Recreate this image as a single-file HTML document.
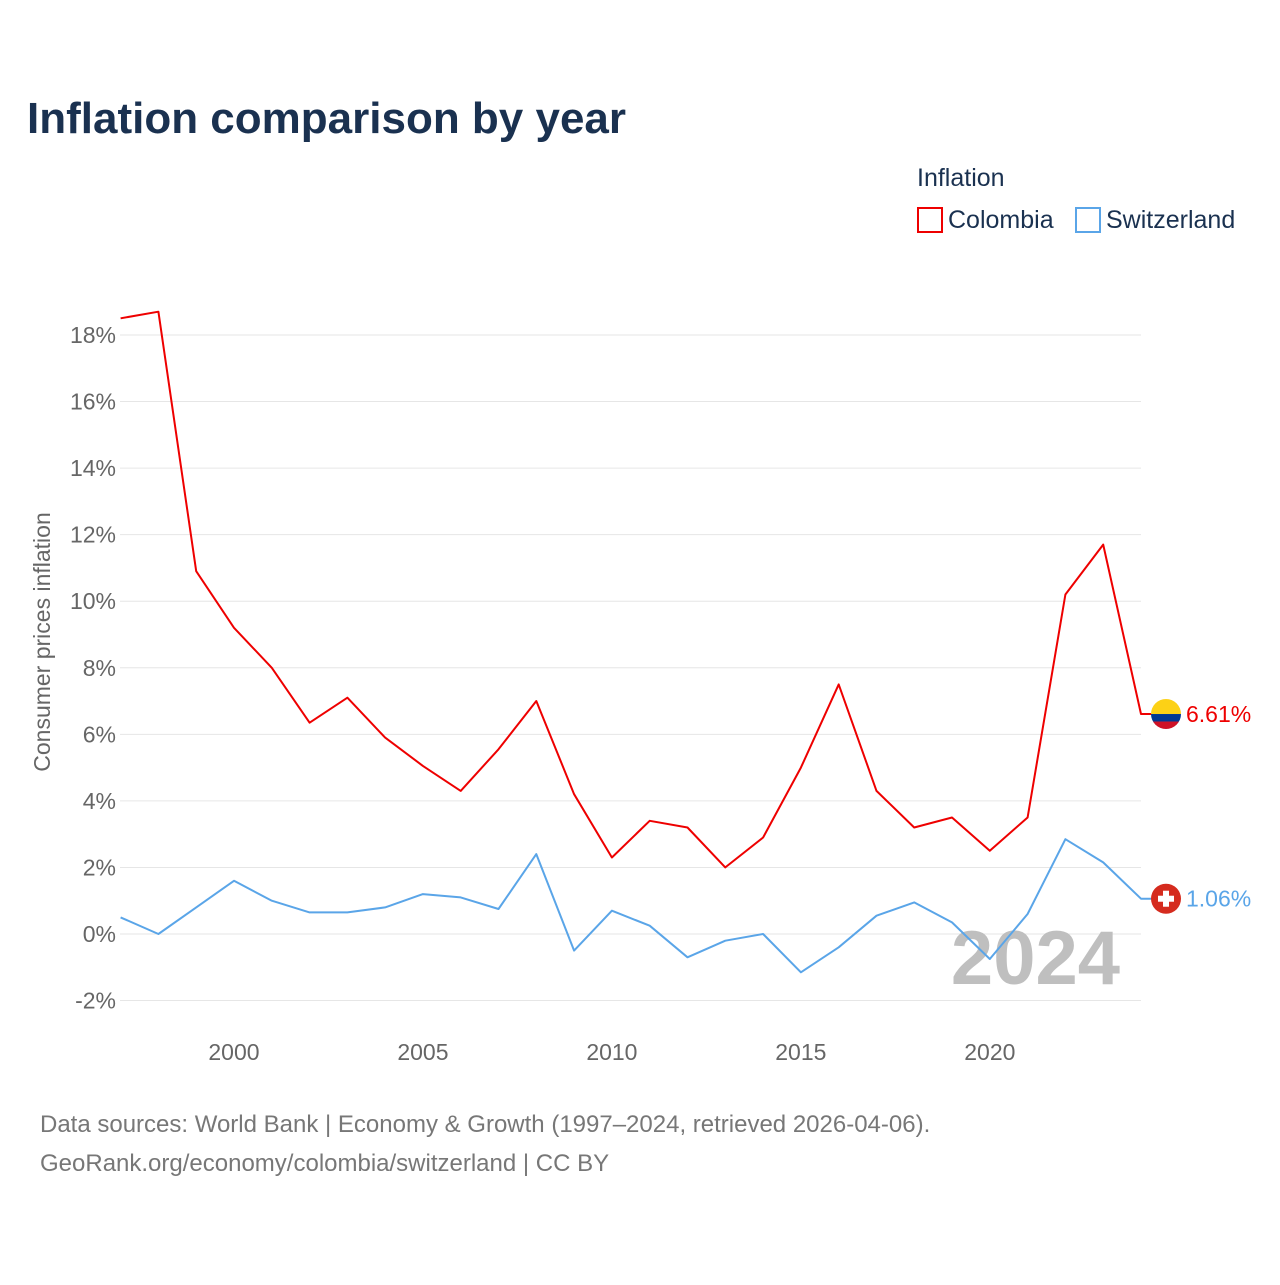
<!DOCTYPE html>
<html><head><meta charset="utf-8"><style>
body{margin:0;background:#fff;font-family:"Liberation Sans",sans-serif;}
svg text{font-family:"Liberation Sans",sans-serif;}
</style></head><body>
<svg id="c" width="1280" height="1280" xmlns="http://www.w3.org/2000/svg">
<text x="27" y="133" font-size="44" font-weight="bold" fill="#1a3150">Inflation comparison by year</text>
<text x="917" y="186" font-size="25" fill="#1a3150">Inflation</text>
<g><rect x="918" y="208" width="24" height="24" fill="none" stroke="#ee0000" stroke-width="2"/><text x="948" y="228" font-size="25" fill="#1a3150">Colombia</text></g>
<g><rect x="1076" y="208" width="24" height="24" fill="none" stroke="#5aa5e8" stroke-width="2"/><text x="1106" y="228" font-size="25" fill="#1a3150">Switzerland</text></g>
<text transform="translate(50,642) rotate(-90)" text-anchor="middle" font-size="23" fill="#666">Consumer prices inflation</text>
<g id="grid"></g><g id="ticks"></g>
<text x="1120" y="984" text-anchor="end" font-size="76" font-weight="bold" fill="#bfbfbf">2024</text>
<g id="series"></g>
<text x="40" y="1132" font-size="24" fill="#777">Data sources: World Bank | Economy &amp; Growth (1997–2024, retrieved 2026-04-06).</text>
<text x="40" y="1171" font-size="24" fill="#777">GeoRank.org/economy/colombia/switzerland | CC BY</text>
</svg>
<script>
const years=[1997,1998,1999,2000,2001,2002,2003,2004,2005,2006,2007,2008,2009,2010,2011,2012,2013,2014,2015,2016,2017,2018,2019,2020,2021,2022,2023,2024];
const colombia=[18.5,18.7,10.9,9.2,8.0,6.35,7.1,5.9,5.05,4.3,5.55,7.0,4.2,2.3,3.4,3.2,2.0,2.9,5.0,7.5,4.3,3.2,3.5,2.5,3.5,10.2,11.7,6.61];
const switzerland=[0.5,0.0,0.8,1.6,1.0,0.65,0.65,0.8,1.2,1.1,0.75,2.4,-0.5,0.7,0.25,-0.7,-0.2,0.0,-1.15,-0.4,0.55,0.95,0.35,-0.75,0.6,2.85,2.15,1.06];
const yTicks=[-2,0,2,4,6,8,10,12,14,16,18];
const xTicks=[2000,2005,2010,2015,2020];
const X=y=>120.6+(y-1997)*(1141-120.6)/27;
const Y=v=>934-v*33.28;
const NS="http://www.w3.org/2000/svg";
function mk(t,a,p){const e=document.createElementNS(NS,t);for(const k in a)e.setAttribute(k,a[k]);p.appendChild(e);return e;}
const grid=document.getElementById('grid'),ticks=document.getElementById('ticks'),ser=document.getElementById('series');
yTicks.forEach(v=>{
 const l=mk('line',{x1:120,x2:1141,y1:Y(v),y2:Y(v),stroke:'#e6e6e6','stroke-width':1},grid);
 
 
 const t=mk('text',{x:116,y:Y(v)+8,'text-anchor':'end','font-size':23,fill:'#666'},ticks);
 t.textContent=v+'%';
 
 
});
xTicks.forEach(y=>{
 const t=mk('text',{x:X(y),y:1060,'text-anchor':'middle','font-size':23,fill:'#666'},ticks);
 t.textContent=y;
 
 
});
function line(vals,col,name){
 const d=vals.map((v,i)=>(i?'L':'M')+X(years[i]).toFixed(1)+','+Y(v).toFixed(1)).join('')+'H1152';
 const p=mk('path',{d:d,fill:'none',stroke:col,'stroke-width':2,'stroke-linejoin':'round'},ser);
 
 
 const last=vals[vals.length-1],ly=Y(last);
 const t=mk('text',{x:1186,y:ly+8,'font-size':23,fill:col},ser);
 t.textContent=last.toFixed(2)+'%';
 
 
 return ly;
}
const cy=line(colombia,'#ee0000','colombia');
const sy=line(switzerland,'#5aa5e8','switzerland');
// flags
const fc=mk('g',{},ser);


mk('clipPath',{id:'cc'},fc).appendChild(document.createElementNS(NS,'circle'));
const cc=fc.querySelector('circle');cc.setAttribute('cx',1166);cc.setAttribute('cy',cy);cc.setAttribute('r',15);
const gcl=mk('g',{'clip-path':'url(#cc)'},fc);
mk('rect',{x:1150,y:cy-15,width:32,height:15,fill:'#fcd116'},gcl);
mk('rect',{x:1150,y:cy,width:32,height:7.5,fill:'#003893'},gcl);
mk('rect',{x:1150,y:cy+7.5,width:32,height:8,fill:'#ce1126'},gcl);
const fs=mk('g',{},ser);


mk('circle',{cx:1166,cy:sy,r:15,fill:'#d52b1e'},fs);
mk('rect',{x:1163,y:sy-8,width:6,height:16,fill:'#fff'},fs);
mk('rect',{x:1158,y:sy-3,width:16,height:6,fill:'#fff'},fs);
</script>
</body></html>
